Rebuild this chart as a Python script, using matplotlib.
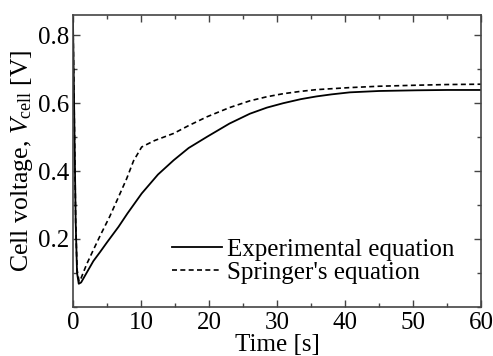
import matplotlib
matplotlib.use("Agg")
import matplotlib.pyplot as plt
from matplotlib.ticker import MultipleLocator

plt.rcParams['font.family'] = 'Liberation Serif'
plt.rcParams['mathtext.fontset'] = 'custom'
plt.rcParams['mathtext.rm'] = 'Liberation Serif'
plt.rcParams['mathtext.it'] = 'Liberation Serif:italic'

# valores
t_exp = [0, 0.2, 0.4, 0.6, 0.85, 1.2, 2.0, 3.0, 4.0, 5.0, 6.7, 8.0, 10.1, 12.5, 14.8, 17.0,
         19.7, 23.0, 26.0, 28.5, 30.9, 33.5, 35.8, 38.0, 40.7, 45.0, 50.5, 55.0, 60.0]
v_exp = [0.85, 0.55, 0.25, 0.1, 0.068, 0.072, 0.1, 0.135, 0.162, 0.19, 0.236, 0.275, 0.334,
         0.39, 0.432, 0.468, 0.501, 0.54, 0.569, 0.587, 0.6, 0.612, 0.62, 0.626, 0.632,
         0.636, 0.638, 0.639, 0.639]

t_spr = [0, 0.2, 0.4, 0.6, 0.9, 1.2, 2.0, 3.0, 4.0, 5.4, 6.5, 7.9, 8.9, 10.1, 12.0, 14.8,
         17.0, 19.7, 23.0, 26.0, 28.5, 30.9, 33.5, 35.8, 40.7, 45.0, 50.5, 55.0, 60.0]
v_spr = [0.85, 0.55, 0.25, 0.11, 0.075, 0.085, 0.125, 0.168, 0.21, 0.266, 0.315, 0.378,
         0.43, 0.471, 0.49, 0.511, 0.534, 0.56, 0.587, 0.607, 0.619, 0.628, 0.635, 0.64,
         0.646, 0.65, 0.653, 0.655, 0.656]

x_ticks = [0, 10, 20, 30, 40, 50, 60]
y_ticks = [0.2, 0.4, 0.6, 0.8]

fs = 18
fig = plt.figure(figsize=(4.93, 3.56), dpi=100)
ax = fig.add_axes([0.148, 0.138, 0.828, 0.82])

ax.plot(t_exp, v_exp, color='black', linestyle='-', linewidth=1.3, label='Experimental equation')
ax.plot(t_spr, v_spr, color='black', linestyle=(0, (3, 2)), linewidth=1.2, label="Springer's equation")

ax.set_xlim(0, 60)
ax.set_ylim(0, 0.86)
ax.set_xticks(x_ticks)
ax.set_xticklabels([str(x) for x in x_ticks], fontfamily='Liberation Serif', fontsize=fs)
ax.set_yticks(y_ticks)
ax.set_yticklabels([f"{y:.1f}" for y in y_ticks], fontfamily='Liberation Serif', fontsize=fs)
ax.xaxis.set_minor_locator(MultipleLocator(5))
ax.yaxis.set_minor_locator(MultipleLocator(0.1))
ax.tick_params(which='both', direction='in', top=True, right=True, color='#444444')
ax.tick_params(which='major', length=5, width=1)
ax.tick_params(which='minor', length=3, width=1)
ax.tick_params(axis='x', pad=4)
ax.tick_params(axis='y', pad=3)
for s in ax.spines.values():
    s.set_color('#444444')
    s.set_linewidth(1.2)

ax.set_xlabel("Time [s]", fontsize=fs, labelpad=0)
ax.set_ylabel(r"Cell voltage, $V_\mathrm{cell}$ [V]", fontsize=fs + 0.5, labelpad=2)

ax.legend(loc='lower right', bbox_to_anchor=(0.96, 0.045), frameon=False, fontsize=fs,
          handlelength=2.0, handletextpad=0.2, labelspacing=0.0, borderaxespad=0)

plt.savefig("out.png", dpi=100)
